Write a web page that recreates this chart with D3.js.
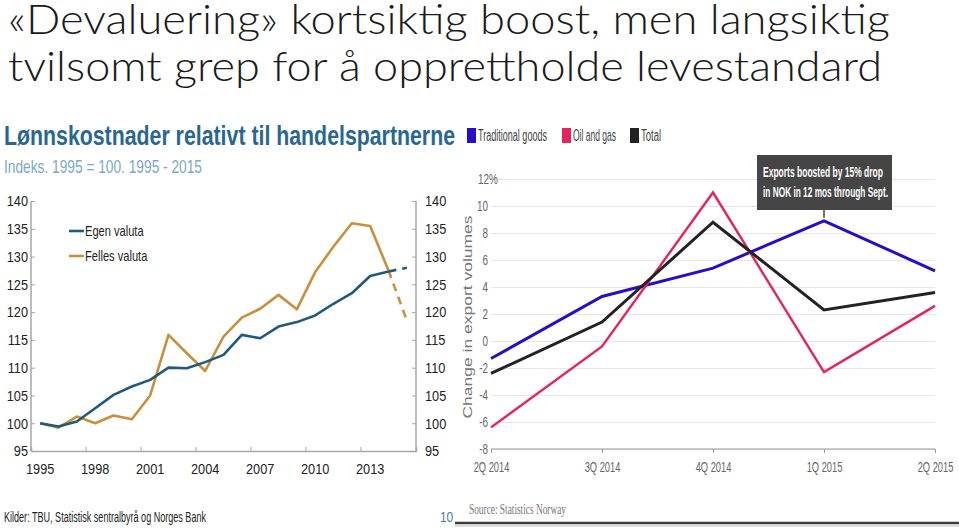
<!DOCTYPE html>
<html>
  <head>
    <meta charset="utf-8">
    <title></title>
    <script src="https://cdn.jsdelivr.net/npm/d3@7/dist/d3.min.js" charset="utf-8"></script>
    <style media="screen">
    body {margin:0; background:#fff;}
    svg {display:block; font-family:"Liberation Sans", Arial, sans-serif;}
    </style>
    <script>
    // venstre figur: lønnskostnader
    var years = [1995, 1996, 1997, 1998, 1999, 2000, 2001, 2002, 2003, 2004, 2005,
                 2006, 2007, 2008, 2009, 2010, 2011, 2012, 2013, 2014, 2015];
    var yearLabels = [1995, 1998, 2001, 2004, 2007, 2010, 2013];
    var egenValuta = [100, 99.4, 100.3, 102.7, 105.1, 106.6, 107.8, 110, 109.9, 111, 112.3,
                      115.9, 115.3, 117.4, 118.2, 119.4, 121.5, 123.4, 126.5, 127.3, 128];
    var fellesValuta = [100, 99.2, 101.2, 100, 101.4, 100.7, 105, 115.9, 112.6, 109.4, 115.6,
                        119, 120.6, 123.1, 120.5, 127.2, 131.8, 136, 135.5, 127.5, 118.5];
    var leftTicks = [95, 100, 105, 110, 115, 120, 125, 130, 135, 140];

    // høyre figur: eksportvolum
    var quarters = ['2Q 2014', '3Q 2014', '4Q 2014', '1Q 2015', '2Q 2015'];
    var traditionalGoods = [-1.3, 3.3, 5.4, 8.9, 5.2];
    var oilAndGas = [-6.4, -0.4, 11, -2.3, 2.6];
    var total = [-2.4, 1.4, 8.8, 2.3, 3.6];
    var rightTicks = [-8, -6, -4, -2, 0, 2, 4, 6, 8, 10, 12];

    // smal skrift finnes ikke, så teksten presses sammen
    function condense(sel, f){
      sel.each(function (){
        var w=this.getComputedTextLength();
        d3.select(this).attr('textLength', w*f).attr('lengthAdjust', 'spacingAndGlyphs');
      });
    }

    window.onload=function (){
      var svg=d3.select('#svg1');

      //1. overskrift
      var head=svg.append('g')
      .attr('font-family', 'Lato, "Open Sans", "Liberation Sans", sans-serif')
      .attr('font-weight', 300)
      .attr('font-size', 41)
      .attr('fill', '#1a1a1a');
      head.append('text').attr('x', 8).attr('y', 34)
      .attr('textLength', 882).attr('lengthAdjust', 'spacingAndGlyphs')
      .text('«Devaluering» kortsiktig boost, men langsiktig');
      head.append('text').attr('x', 8).attr('y', 81)
      .attr('textLength', 874).attr('lengthAdjust', 'spacingAndGlyphs')
      .text('tvilsomt grep for å opprettholde levestandard');

      //2. venstre figur
      var L=svg.append('g');
      L.append('text').attr('x', 4).attr('y', 145)
      .attr('font-size', 28).attr('font-weight', 'bold').attr('fill', '#2a6790')
      .attr('textLength', 451).attr('lengthAdjust', 'spacingAndGlyphs')
      .text('Lønnskostnader relativt til handelspartnerne');
      L.append('text').attr('x', 4).attr('y', 173)
      .attr('font-size', 18).attr('fill', '#7ea7c4')
      .attr('textLength', 198).attr('lengthAdjust', 'spacingAndGlyphs')
      .text('Indeks. 1995 = 100. 1995 - 2015');

      var xL=d3.scaleBand().domain(years).range([31, 416]);
      var bw=xL.bandwidth();
      var yL=d3.scaleLinear().domain([95, 140]).range([451, 201]);

      var axL=L.append('g').attr('transform', 'translate(31,0)')
      .call(d3.axisLeft(yL).tickValues(leftTicks).tickSize(-4).tickPadding(3));
      var axR=L.append('g').attr('transform', 'translate(416,0)')
      .call(d3.axisRight(yL).tickValues(leftTicks).tickSize(-4).tickPadding(9));
      var axB=L.append('g').attr('transform', 'translate(0,451)')
      .call(d3.axisBottom(xL).tickValues(yearLabels).tickSize(-4).tickPadding(12));
      axB.selectAll('.tick line').attr('x1', -bw/2).attr('x2', -bw/2);
      [axL, axR, axB].forEach(function (a){
        a.attr('font-family', null);
        a.select('.domain').attr('stroke', '#a6a6a6').attr('stroke-width', 1.5);
        a.selectAll('.tick line').attr('stroke', '#a6a6a6');
        a.selectAll('text').attr('font-size', 15).attr('fill', '#222').call(condense, 0.85);
      });
      axL.selectAll('.domain').attr('d', 'M0,201V451');
      axR.selectAll('.domain').attr('d', 'M0,201V451');

      var lineL=d3.line()
      .x(function (d){return xL(d.year)+bw/2;})
      .y(function (d){return yL(d.v);});
      function drawSeries(vals, color){
        var pts=years.map(function (y, i){return {year:y, v:vals[i]};});
        L.append('path').attr('d', lineL(pts.slice(0, pts.length-1)))
        .attr('fill', 'none').attr('stroke', color).attr('stroke-width', 2.6)
        .attr('stroke-linejoin', 'round');
        L.append('path').attr('d', lineL(pts.slice(pts.length-2)))
        .attr('fill', 'none').attr('stroke', color).attr('stroke-width', 2.6)
        .attr('stroke-dasharray', '8,6');
      }
      drawSeries(fellesValuta, '#c8903d');
      drawSeries(egenValuta, '#1f5a7e');

      var legL=[{name:'Egen valuta', color:'#1f5a7e'}, {name:'Felles valuta', color:'#c8903d'}];
      legL.forEach(function (d, i){
        var y=231+i*25;
        L.append('line').attr('x1', 69).attr('x2', 84).attr('y1', y).attr('y2', y)
        .attr('stroke', d.color).attr('stroke-width', 2.6);
        L.append('text').attr('x', 85).attr('y', y+5).attr('font-size', 15).attr('fill', '#222')
        .text(d.name).call(condense, 0.74);
      });

      L.append('text').attr('x', 4).attr('y', 522).attr('font-size', 14).attr('fill', '#222')
      .attr('textLength', 202).attr('lengthAdjust', 'spacingAndGlyphs')
      .text('Kilder: TBU, Statistisk sentralbyrå og Norges Bank');
      L.append('text').attr('x', 440).attr('y', 522).attr('font-size', 14).attr('fill', '#4a78ad')
      .text('10').call(condense, 0.85);

      //3. høyre figur
      var R=svg.append('g');
      var xR=d3.scalePoint().domain(quarters).range([491, 935]);
      var yR=d3.scaleLinear().domain([-8, 12]).range([449, 179]);

      var grid=R.append('g').attr('transform', 'translate(491,0)')
      .call(d3.axisLeft(yR).tickValues(rightTicks).tickSize(-444).tickPadding(3)
        .tickFormat(function (d){return d;}));
      grid.attr('font-family', null);
      grid.select('.domain').remove();
      grid.selectAll('.tick line').attr('stroke', '#e6e6e6').attr('stroke-width', 1.2);
      grid.selectAll('text').attr('font-size', 15).attr('fill', '#666');
      grid.selectAll('.tick').filter(function (d){return d===12;}).select('text')
      .attr('text-anchor', 'start').attr('x', -13).text('12%');
      grid.selectAll('text').call(condense, 0.66);

      var axQ=R.append('g').attr('transform', 'translate(0,449)')
      .call(d3.axisBottom(xR).tickSize(4).tickPadding(8));
      axQ.attr('font-family', null);
      axQ.select('.domain').attr('stroke', '#999').attr('stroke-width', 1.2).attr('d', 'M491,0H935');
      axQ.selectAll('.tick line').attr('stroke', '#999');
      axQ.selectAll('text').attr('font-size', 15).attr('fill', '#666').call(condense, 0.62);

      R.append('text').attr('transform', 'translate(472,317) rotate(-90)')
      .attr('text-anchor', 'middle')
      .attr('font-size', 13).attr('fill', '#777')
      .attr('textLength', 203).attr('lengthAdjust', 'spacingAndGlyphs')
      .text('Change in export volumes');

      var lineR=d3.line()
      .x(function (d, i){return xR(quarters[i]);})
      .y(function (d){return yR(d);});
      var seriesR=[
        {name:'Traditional goods', vals:traditionalGoods, color:'#2a0bc9', w:3},
        {name:'Oil and gas', vals:oilAndGas, color:'#e3245e', w:2.4},
        {name:'Total', vals:total, color:'#222', w:3}
      ];
      seriesR.forEach(function (s){
        R.append('path').attr('d', lineR(s.vals))
        .attr('fill', 'none').attr('stroke', s.color).attr('stroke-width', s.w);
      });

      var legX=[467, 562, 630];
      var legW=[69, 43, 20];
      seriesR.forEach(function (s, i){
        R.append('rect').attr('x', legX[i]).attr('y', 128).attr('width', 9).attr('height', 15)
        .attr('fill', s.color);
        R.append('text').attr('x', legX[i]+11).attr('y', 141).attr('font-size', 16).attr('fill', '#444')
        .attr('textLength', legW[i]).attr('lengthAdjust', 'spacingAndGlyphs')
        .text(s.name);
      });

      // merknad
      var px=xR('1Q 2015'), py=yR(traditionalGoods[3]);
      R.append('line').attr('x1', px).attr('x2', px).attr('y1', 210).attr('y2', py-3)
      .attr('stroke', '#444').attr('stroke-width', 1.5);
      R.append('rect').attr('x', 757).attr('y', 155).attr('width', 135).attr('height', 55)
      .attr('fill', '#454545');
      R.append('text').attr('x', 763).attr('y', 177).attr('font-size', 15).attr('font-weight', 'bold')
      .attr('fill', '#fff').attr('textLength', 120).attr('lengthAdjust', 'spacingAndGlyphs')
      .text('Exports boosted by 15% drop');
      R.append('text').attr('x', 763).attr('y', 197).attr('font-size', 15).attr('font-weight', 'bold')
      .attr('fill', '#fff').attr('textLength', 125).attr('lengthAdjust', 'spacingAndGlyphs')
      .text('in NOK in 12 mos through Sept.');

      R.append('text').attr('x', 469).attr('y', 514)
      .attr('font-family', '"Liberation Serif", "DejaVu Serif", serif').attr('font-size', 14).attr('fill', '#777')
      .attr('textLength', 97).attr('lengthAdjust', 'spacingAndGlyphs')
      .text('Source: Statistics Norway');
      R.append('line').attr('x1', 455).attr('x2', 959).attr('y1', 523).attr('y2', 523)
      .attr('stroke', '#3a3a3a').attr('stroke-width', 2.5);
      R.append('line').attr('x1', 455).attr('x2', 959).attr('y1', 526).attr('y2', 526)
      .attr('stroke', '#bbb').attr('stroke-width', 1);
    };
    </script>
  </head>
  <body>
    <svg id="svg1" width="959" height="529"></svg>
  </body>
</html>
